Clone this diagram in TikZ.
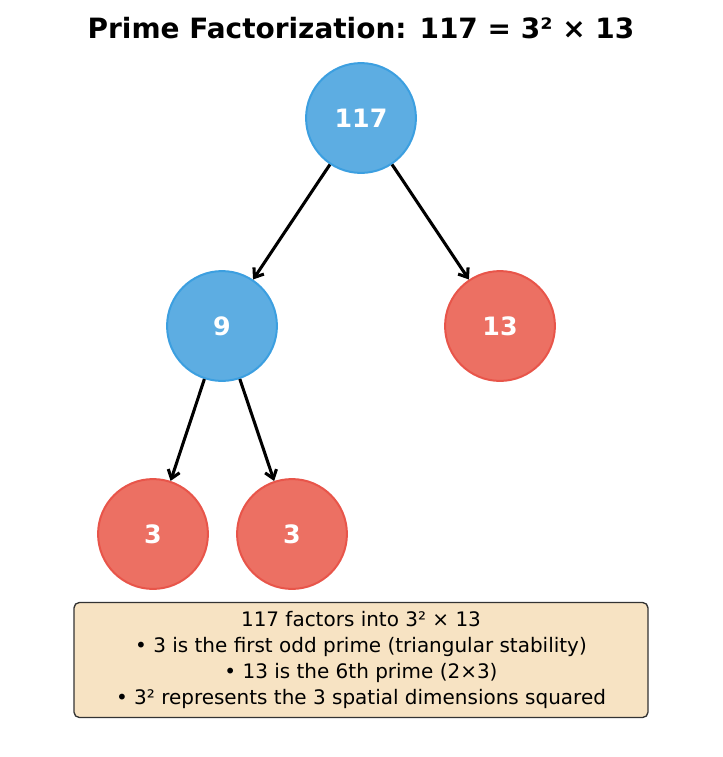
\documentclass[tikz,border=0pt]{standalone}
\usepackage{fontspec}
\setmainfont{DejaVu Sans}
\usetikzlibrary{arrows.meta}
\definecolor{compfill}{HTML}{5DADE2}
\definecolor{compline}{HTML}{3C9FE0}
\definecolor{primefill}{HTML}{EC7063}
\definecolor{primeline}{HTML}{E8554A}
\definecolor{notefill}{HTML}{F7E3C3}
\begin{document}
\begin{tikzpicture}[x=0.0264cm,y=-0.0264cm,
    comp/.style={circle,minimum size=110\pgflinewidth*0+2.9cm,fill=compfill,draw=compline,line width=1.5pt,
                 text=white,font=\fontsize{19}{22}\selectfont\bfseries,inner sep=0pt},
    prime/.style={comp,fill=primefill,draw=primeline},
    split/.style={-{Straight Barb[length=6pt,width=9pt]},line width=2.3pt}]
      \useasboundingbox (0,0) rectangle (723,757);

      \node[font=\fontsize{21}{25}\selectfont\bfseries] (title) at (361,28) {Prime Factorization: 117 = 3² × 13};

      \node[comp] (N117) at (361,118) {117};
      \node[comp] (N9) at (222,326) {9};
      \node[prime] (N13) at (500,326) {13};
      \node[prime] (N3a) at (153,534) {3};
      \node[prime] (N3b) at (292,534) {3};

      \draw[split] (N117) -- (N9);
      \draw[split] (N117) -- (N13);
      \draw[split] (N9) -- (N3a);
      \draw[split] (N9) -- (N3b);

      \node[draw=black!80,fill=notefill,rounded corners=4pt,line width=1pt,align=center,
            minimum width=574*0.0264cm,minimum height=115*0.0264cm,inner sep=2pt,
            font=\fontsize{15}{19.5}\selectfont] (note) at (361,660)
        {117 factors into 3² × 13\\
         • 3 is the first odd prime (triangular stability)\\
         • 13 is the 6th prime (2×3)\\
         • 3² represents the 3 spatial dimensions squared};
    \end{tikzpicture}
\end{document}
